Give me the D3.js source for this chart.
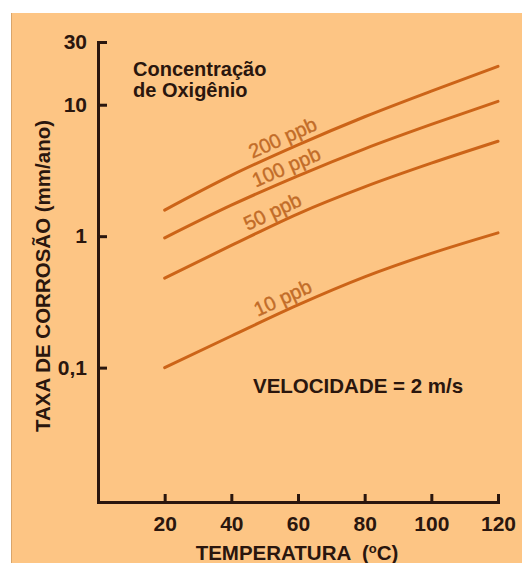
<!DOCTYPE html>
<html>
<head>
<meta charset="utf-8">
<script src="https://cdn.jsdelivr.net/npm/d3@7"></script>
<style>
  html, body { margin: 0; padding: 0; background: #ffffff; }
  svg { display: block; }
  text { font-family: "Liberation Sans", Arial, sans-serif; }
</style>
</head>
<body>
<svg id="chart" width="522" height="563"></svg>
<script>
// ---- data ----
const temperatures = [20, 40, 60, 80, 100, 120];
const seriesNames = ["200 ppb", "100 ppb", "50 ppb", "10 ppb"];
const rate200 = [1.58, 2.9, 4.95, 8.1, 12.7, 19.6];
const rate100 = [0.97, 1.72, 2.88, 4.62, 7.08, 10.6];
const rate50  = [0.48, 0.85, 1.48, 2.37, 3.59, 5.27];
const rate10  = [0.10, 0.174, 0.30, 0.49, 0.74, 1.06];
const labelTemps = [57, 58, 54, 57];
const xTickValues = [20, 40, 60, 80, 100, 120];
const yTickValues = [30, 10, 1, 0.1];
const yTickLabels = ["30", "10", "1", "0,1"];

const seriesValues = [rate200, rate100, rate50, rate10];

// ---- style ----
const bg = "#fdc584";
const ink = "#2a160e";
const lineColor = "#cc6418";
const labelColor = "#c26c28";

const svg = d3.select("#chart");

// panel
svg.append("rect").attr("x", 11).attr("y", 13).attr("width", 511).attr("height", 550).attr("fill", bg);
svg.append("line").attr("x1", 11.5).attr("x2", 11.5).attr("y1", 13).attr("y2", 563)
  .attr("stroke", "#d9a56a").attr("stroke-width", 1);

// scales
const x = d3.scaleLinear().domain([0, 120]).range([98, 498]);
const y = d3.scaleLog().domain([0.0095, 30]).range([502, 42]);

// curves
const line = d3.line()
  .x(d => x(d[0]))
  .y(d => y(d[1]))
  .curve(d3.curveMonotoneX);

const g = svg.append("g");
seriesValues.forEach((vals, i) => {
  const pts = temperatures.map((t, j) => [t, vals[j]]);
  g.append("path")
    .attr("d", line(pts))
    .attr("fill", "none")
    .attr("stroke", lineColor)
    .attr("stroke-width", 3)
    .attr("stroke-linecap", "round");
});

// value on a series at temperature t (log interpolation)
function valueAt(vals, t) {
  const lt = vals.map(Math.log10);
  const interp = d3.scaleLinear().domain(temperatures).range(lt);
  return Math.pow(10, interp(t));
}

// labels along curves
seriesValues.forEach((vals, i) => {
  const t = labelTemps[i];
  const px = x(t), py = y(valueAt(vals, t));
  const x1 = x(t - 5), y1 = y(valueAt(vals, t - 5));
  const x2 = x(t + 5), y2 = y(valueAt(vals, t + 5));
  const ang = Math.atan2(y2 - y1, x2 - x1) * 180 / Math.PI;
  svg.append("text")
    .attr("transform", `translate(${px},${py}) rotate(${ang})`)
    .attr("text-anchor", "middle")
    .attr("dy", -6)
    .attr("font-size", 20)
    .attr("fill", labelColor)
    .attr("stroke", labelColor)
    .attr("stroke-width", 0.4)
    .text(seriesNames[i]);
});

// axes
const xAxis = d3.axisBottom(x)
  .tickValues(xTickValues)
  .tickSizeInner(-8)
  .tickSizeOuter(-8)
  .tickPadding(14)
  .tickFormat(d3.format("d"));

const yAxis = d3.axisLeft(y)
  .tickValues(yTickValues)
  .tickSizeInner(-9)
  .tickSizeOuter(-9)
  .tickPadding(11)
  .tickFormat((d, i) => yTickLabels[i]);

function styleAxis(sel) {
  sel.select(".domain").attr("stroke", ink).attr("stroke-width", 3).attr("stroke-linejoin", "miter");
  sel.selectAll(".tick line").attr("stroke", ink).attr("stroke-width", 3);
  sel.selectAll(".tick text")
    .attr("fill", ink)
    .attr("font-size", 21)
    .attr("font-weight", "bold")
    .attr("font-family", "'Liberation Sans', Arial, sans-serif");
}

svg.append("g").attr("transform", "translate(0,502)").call(xAxis).call(styleAxis);
svg.append("g").attr("transform", "translate(98,0)").call(yAxis).call(styleAxis);

// axis titles
const xt = svg.append("text")
  .attr("x", 297).attr("y", 560)
  .attr("text-anchor", "middle")
  .attr("font-size", 20.5).attr("font-weight", "bold").attr("fill", ink)
  .style("white-space", "pre");
xt.append("tspan").text("TEMPERATURA  (");
xt.append("tspan").attr("font-size", 13).attr("dy", -7).text("o");
xt.append("tspan").attr("dy", 7).text("C)");

svg.append("text")
  .attr("transform", "translate(50,276) rotate(-90)")
  .attr("text-anchor", "middle")
  .attr("font-size", 20.5).attr("font-weight", "bold").attr("fill", ink)
  .text("TAXA DE CORROSÃO (mm/ano)");

// annotations
const ann = svg.append("text")
  .attr("x", 133).attr("y", 76)
  .attr("font-size", 20).attr("font-weight", "bold").attr("fill", ink);
ann.append("tspan").attr("x", 133).text("Concentração");
ann.append("tspan").attr("x", 133).attr("dy", 21).text("de Oxigênio");

svg.append("text")
  .attr("x", 253).attr("y", 393)
  .attr("font-size", 20.5).attr("font-weight", "bold").attr("fill", ink)
  .text("VELOCIDADE = 2 m/s");
</script>
</body>
</html>
